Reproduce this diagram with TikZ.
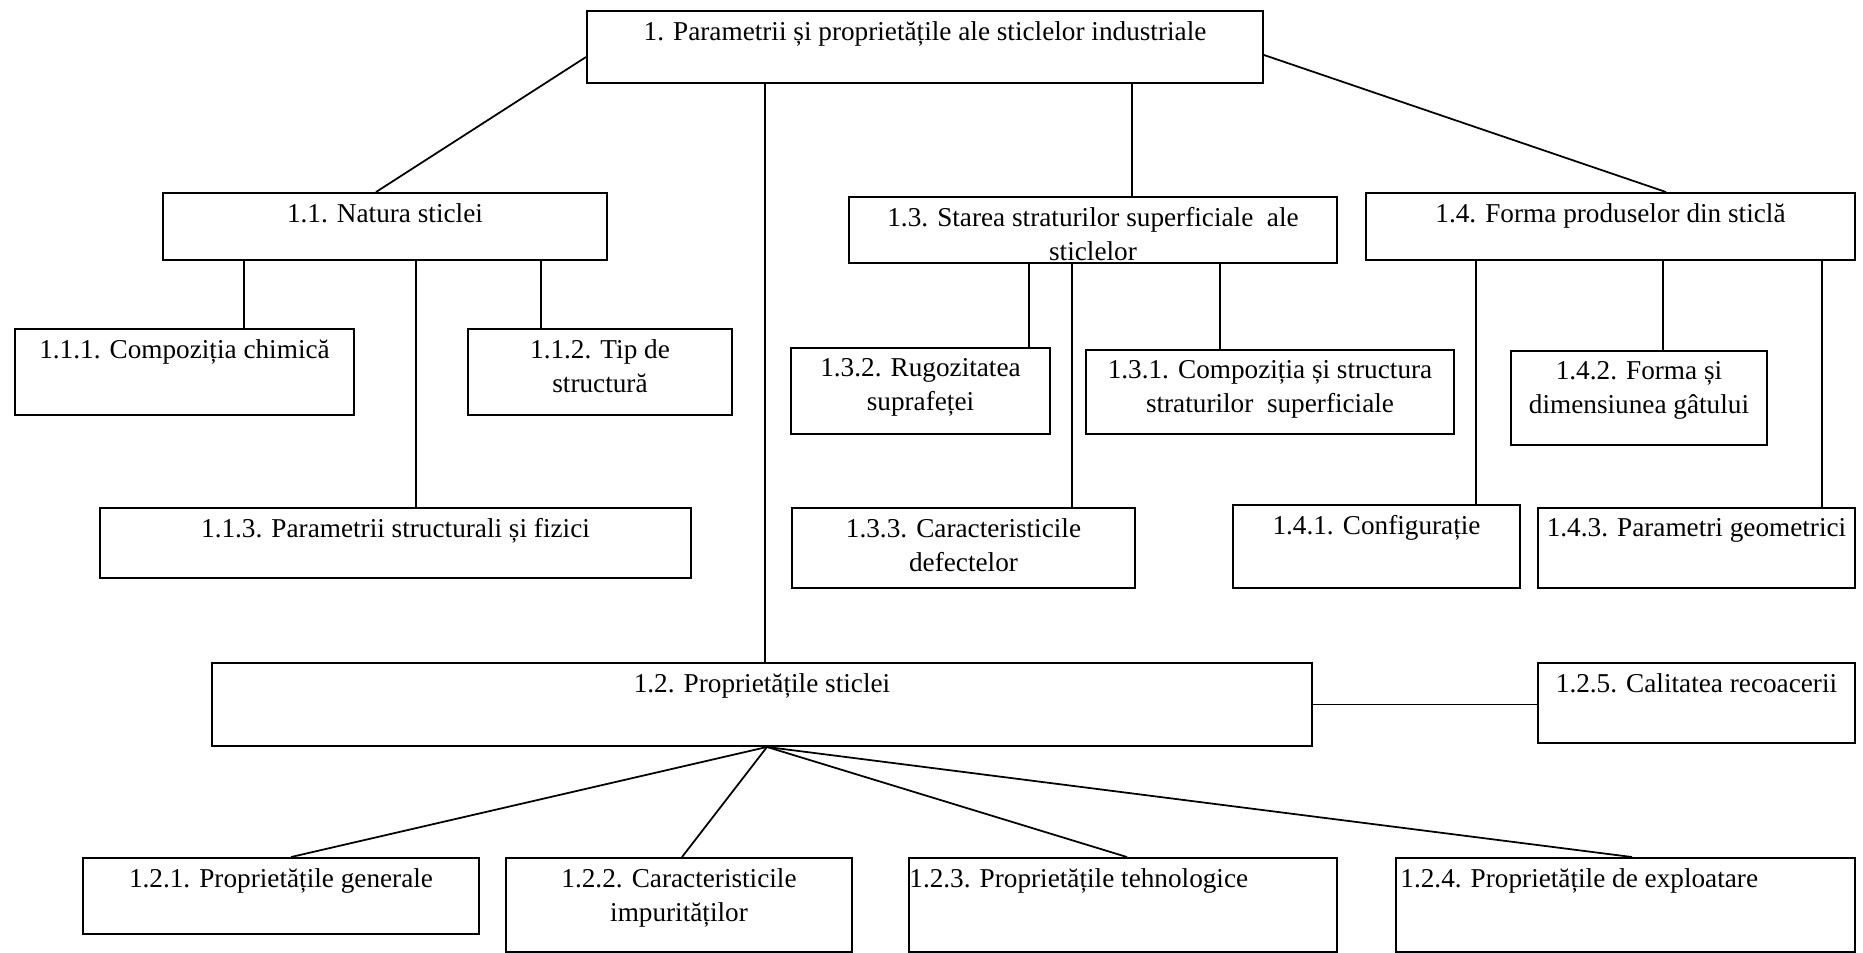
\documentclass[tikz,border=0pt]{standalone}
\usepackage{fontspec}
\setmainfont{Liberation Serif}
\usetikzlibrary{fit}

\tikzset{
  box/.style={draw, line width=1.1pt, inner sep=0pt},
  txt/.style={anchor=north, align=center, inner sep=0pt, font=\fontsize{15.5}{19.5}\selectfont},
  link/.style={line width=1pt},
}

\begin{document}
\begin{tikzpicture}[x=0.02cm, y=-0.02cm]
    \useasboundingbox (0,0) rectangle (1863,953);

    \node[box, fit={(587,11) (1263,83)}] (p1) {};

    \node[box, fit={(163,193) (607,260)}] (n11) {};
    \node[box, fit={(849,197) (1337,263)}] (n13) {};
    \node[box, fit={(1366,193) (1855,260)}] (n14) {};

    \node[box, fit={(15,329) (354,415)}] (n111) {};
    \node[box, fit={(468,329) (732,415)}] (n112) {};
    \node[box, fit={(100,508) (691,578)}] (n113) {};

    \node[box, fit={(791,348) (1050,434)}] (n132) {};
    \node[box, fit={(1086,350) (1454,434)}] (n131) {};
    \node[box, fit={(792,508) (1135,588)}] (n133) {};

    \node[box, fit={(1511,351) (1767,445)}] (n142) {};
    \node[box, fit={(1233,505) (1520,588)}] (n141) {};
    \node[box, fit={(1538,508) (1855,588)}] (n143) {};

    \node[box, fit={(212,663) (1312,746)}] (n12) {};
    \node[box, fit={(1538,663) (1855,743)}] (n125) {};

    \node[box, fit={(83,858) (479,934)}] (n121) {};
    \node[box, fit={(506,858) (852,952)}] (n122) {};
    \node[box, fit={(909,858) (1337,952)}] (n123) {};
    \node[box, fit={(1396,858) (1855,952)}] (n124) {};

    \node[txt] (t1) at ([yshift=-0.22cm]p1.north) {1. Parametrii și proprietățile ale sticlelor industriale};
    \node[txt] (t11) at ([yshift=-0.22cm]n11.north) {1.1. Natura sticlei};
    \node[txt] (t13) at ([yshift=-0.22cm]n13.north) {1.3. Starea straturilor superficiale\ \ ale\\sticlelor};
    \node[txt] (t14) at ([yshift=-0.22cm]n14.north) {1.4. Forma produselor din sticlă};
    \node[txt] (t111) at ([yshift=-0.22cm]n111.north) {1.1.1. Compoziția chimică};
    \node[txt] (t112) at ([yshift=-0.22cm]n112.north) {1.1.2. Tip de\\structură};
    \node[txt] (t113) at ([yshift=-0.22cm]n113.north) {1.1.3. Parametrii structurali și fizici};
    \node[txt] (t132) at ([yshift=-0.22cm]n132.north) {1.3.2. Rugozitatea\\suprafeței};
    \node[txt] (t131) at ([yshift=-0.22cm]n131.north) {1.3.1. Compoziția și structura\\straturilor\ \ superficiale};
    \node[txt] (t133) at ([yshift=-0.22cm]n133.north) {1.3.3. Caracteristicile\\defectelor};
    \node[txt] (t142) at ([yshift=-0.22cm]n142.north) {1.4.2. Forma și\\dimensiunea gâtului};
    \node[txt] (t141) at ([yshift=-0.22cm]n141.north) {1.4.1. Configurație};
    \node[txt] (t143) at ([yshift=-0.22cm]n143.north) {1.4.3. Parametri geometrici};
    \node[txt] (t12) at ([yshift=-0.22cm]n12.north) {1.2. Proprietățile sticlei};
    \node[txt] (t125) at ([yshift=-0.22cm]n125.north) {1.2.5. Calitatea recoacerii};
    \node[txt] (t121) at ([yshift=-0.22cm]n121.north) {1.2.1. Proprietățile generale};
    \node[txt] (t122) at ([yshift=-0.22cm]n122.north) {1.2.2. Caracteristicile\\impurităților};
    \node[txt, anchor=north west] (t123) at ([xshift=0.02cm, yshift=-0.22cm]n123.north west) {1.2.3. Proprietățile tehnologice};
    \node[txt, anchor=north west] (t124) at ([xshift=0.1cm, yshift=-0.22cm]n124.north west) {1.2.4. Proprietățile de exploatare};

    \draw[link] (p1.west |- 0,57) -- (376,0 |- n11.north);
    \draw[link] (p1.east |- 0,55) -- (1666,0 |- n14.north);
    \draw[link] (765,0 |- p1.south) -- (765,0 |- n12.north);
    \draw[link] (1132,0 |- p1.south) -- (1132,0 |- n13.north);

    \draw[link] (244,0 |- n11.south) -- (244,0 |- n111.north);
    \draw[link] (416,0 |- n11.south) -- (416,0 |- n113.north);
    \draw[link] (541,0 |- n11.south) -- (541,0 |- n112.north);

    \draw[link] (1029,0 |- n13.south) -- (1029,0 |- n132.north);
    \draw[link] (1072,0 |- n13.south) -- (1072,0 |- n133.north);
    \draw[link] (1220,0 |- n13.south) -- (1220,0 |- n131.north);

    \draw[link] (1476,0 |- n14.south) -- (1476,0 |- n141.north);
    \draw[link] (1663,0 |- n14.south) -- (1663,0 |- n142.north);
    \draw[link] (1822,0 |- n14.south) -- (1822,0 |- n143.north);

    \draw[link] (n12.east) -- (n12.east -| n125.west);
    \draw[link] (767,0 |- n12.south) -- (291,0 |- n121.north);
    \draw[link] (767,0 |- n12.south) -- (682,0 |- n122.north);
    \draw[link] (767,0 |- n12.south) -- (1127,0 |- n123.north);
    \draw[link] (767,0 |- n12.south) -- (1632,0 |- n124.north);

\end{tikzpicture}
\end{document}
